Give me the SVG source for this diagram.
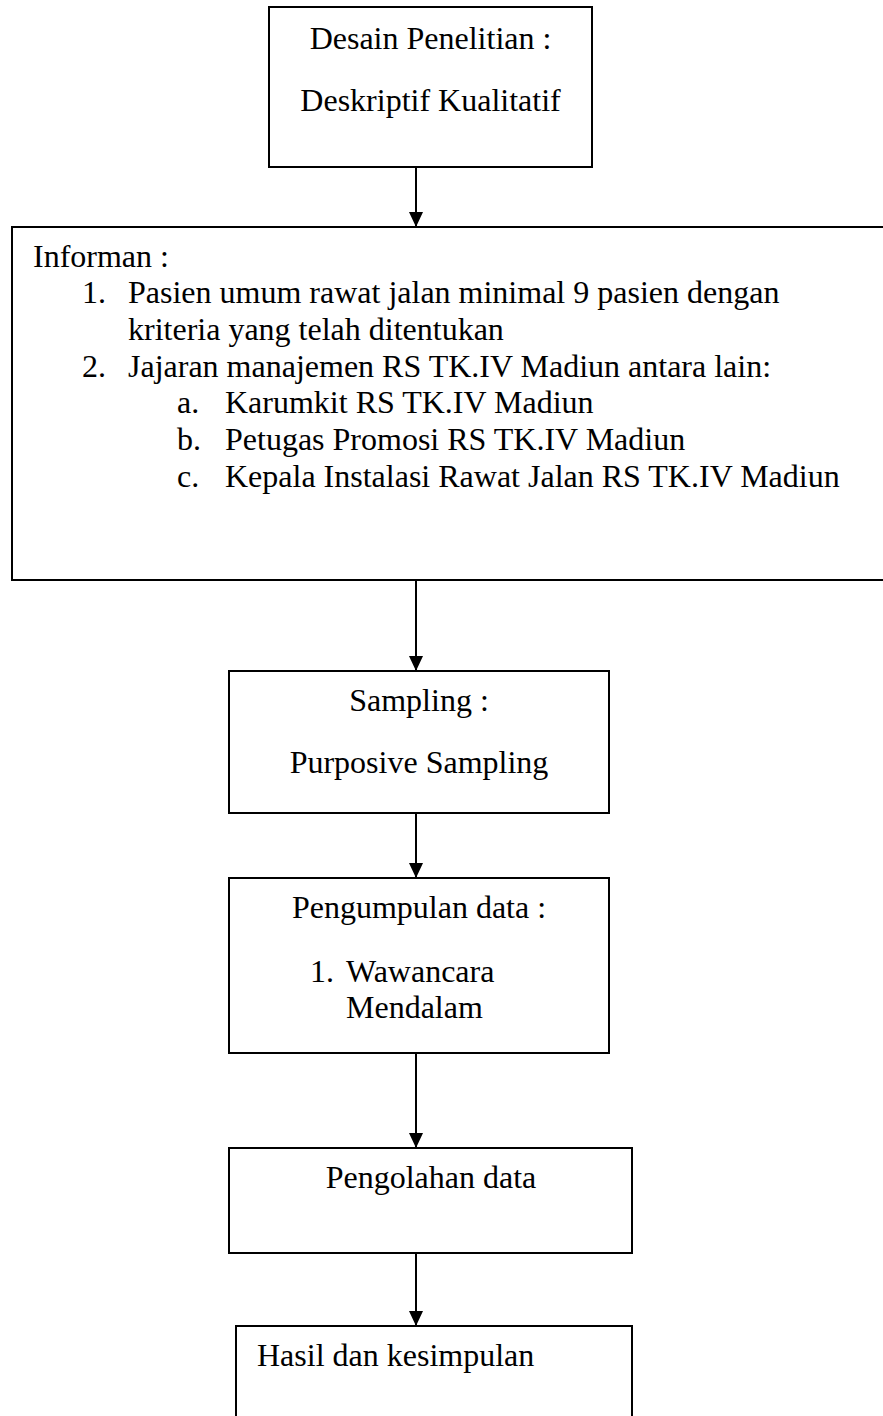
<svg xmlns="http://www.w3.org/2000/svg" width="883" height="1416" viewBox="0 0 883 1416">
  <defs>
    <marker id="arrow" viewBox="0 0 15 14" markerWidth="15" markerHeight="14" refX="15" refY="7" orient="auto" markerUnits="userSpaceOnUse">
      <path d="M0,0 L15,7 L0,14 z" fill="#000"/>
    </marker>
    <style>
      .box { fill: #fff; stroke: #000; stroke-width: 2; }
      .t { font-family: "Liberation Serif", "Times New Roman", serif; font-size: 32px; fill: #000; }
      .c { text-anchor: middle; }
      .conn { stroke: #000; stroke-width: 2; fill: none; marker-end: url(#arrow); }
    </style>
  </defs>
  <rect width="883" height="1416" fill="#fff"/>

  <g id="node-desain">
    <rect class="box" x="269" y="7" width="323" height="160"/>
    <text class="t c" x="430.5" y="49">Desain Penelitian :</text>
    <text class="t c" x="430.5" y="111">Deskriptif Kualitatif</text>
  </g>

  <g id="node-informan">
    <rect class="box" x="12" y="227" width="890" height="353"/>
    <text class="t" x="33" y="267">Informan :</text>
    <text class="t" x="82" y="303">1.</text>
    <text class="t" x="128" y="303">Pasien umum rawat jalan minimal 9 pasien dengan</text>
    <text class="t" x="128" y="340">kriteria yang telah ditentukan</text>
    <text class="t" x="82" y="377">2.</text>
    <text class="t" x="128" y="377">Jajaran manajemen RS TK.IV Madiun antara lain:</text>
    <text class="t" x="177" y="413">a.</text>
    <text class="t" x="225" y="413">Karumkit RS TK.IV Madiun</text>
    <text class="t" x="177" y="450">b.</text>
    <text class="t" x="225" y="450">Petugas Promosi RS TK.IV Madiun</text>
    <text class="t" x="177" y="487">c.</text>
    <text class="t" x="225" y="487">Kepala Instalasi Rawat Jalan RS TK.IV Madiun</text>
  </g>

  <g id="node-sampling">
    <rect class="box" x="229" y="671" width="380" height="142"/>
    <text class="t c" x="419" y="711">Sampling :</text>
    <text class="t c" x="419" y="773">Purposive Sampling</text>
  </g>

  <g id="node-pengumpulan">
    <rect class="box" x="229" y="878" width="380" height="175"/>
    <text class="t c" x="419" y="918">Pengumpulan data :</text>
    <text class="t" x="310" y="982">1.</text>
    <text class="t" x="346" y="982">Wawancara</text>
    <text class="t" x="346" y="1018">Mendalam</text>
  </g>

  <g id="node-pengolahan">
    <rect class="box" x="229" y="1148" width="403" height="105"/>
    <text class="t c" x="431" y="1188">Pengolahan data</text>
  </g>

  <g id="node-hasil">
    <rect class="box" x="236" y="1326" width="396" height="120"/>
    <text class="t" x="257" y="1366">Hasil dan kesimpulan</text>
  </g>

  <g id="connectors">
    <line class="conn" x1="416" y1="167" x2="416" y2="227"/>
    <line class="conn" x1="416" y1="580" x2="416" y2="671"/>
    <line class="conn" x1="416" y1="813" x2="416" y2="878"/>
    <line class="conn" x1="416" y1="1053" x2="416" y2="1148"/>
    <line class="conn" x1="416" y1="1253" x2="416" y2="1326"/>
  </g>
</svg>
